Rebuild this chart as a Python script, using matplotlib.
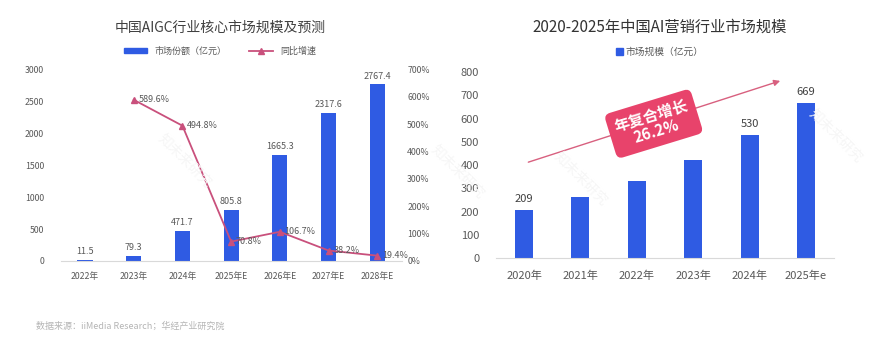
import matplotlib
matplotlib.use("Agg")
import matplotlib.pyplot as plt
import numpy as np
from matplotlib.lines import Line2D
from matplotlib.patches import Patch

plt.rcParams["font.family"] = ["Noto Sans CJK SC", "DejaVu Sans"]

# left chart data
aigc_years = ["2022年", "2023年", "2024年", "2025年E", "2026年E", "2027年E", "2028年E"]
aigc_size = [11.5, 79.3, 471.7, 805.8, 1665.3, 2317.6, 2767.4]
aigc_growth = [None, 589.6, 494.8, 70.8, 106.7, 38.2, 19.4]

# right chart data
mkt_years = ["2020年", "2021年", "2022年", "2023年", "2024年", "2025年e"]
mkt_size = [209, 262, 332, 421, 530, 669]
mkt_labelled = {0: "209", 4: "530", 5: "669"}

BLUE = "#2F5BE3"
PINK = "#C9507C"
TICK = "#595959"
AXIS = "#D9D9D9"

fig = plt.figure(figsize=(8.8, 3.57), dpi=100)

# ---- left: AIGC market ----
ax = fig.add_axes([0.0689, 0.269, 0.3875, 0.536])
x = np.arange(len(aigc_years))
ax.bar(x, aigc_size, width=0.31, color=BLUE, zorder=2)
for xi, v in zip(x, aigc_size):
    ax.text(xi, v + 60, f"{v:.1f}", ha="center", va="bottom", fontsize=6.5, color=TICK)
ax.set_xlim(-0.5, 6.5)
ax.set_ylim(0, 3000)
ax.set_yticks(range(0, 3001, 500))
ax.set_xticks(x, aigc_years)
ax.tick_params(axis="both", length=0, labelsize=6.3, labelcolor=TICK)
ax.tick_params(axis="x", pad=8)
ax.tick_params(axis="y", pad=12)
for s in ["top", "right", "left"]:
    ax.spines[s].set_visible(False)
ax.spines["bottom"].set_color(AXIS)

ax2 = ax.twinx()
gx = [xi for xi, g in zip(x, aigc_growth) if g is not None]
gy = [g for g in aigc_growth if g is not None]
ax2.plot(gx, gy, color=PINK, lw=1.3, marker="^", ms=4, zorder=3)
for xi, g in zip(gx, gy):
    ax2.text(xi + 0.1, g, f"{g:.1f}%", ha="left", va="center", fontsize=6.5, color=TICK)
ax2.set_ylim(0, 700)
ax2.set_yticks(range(0, 701, 100))
ax2.set_yticklabels([f"{t}%" for t in range(0, 701, 100)])
ax2.tick_params(axis="y", length=0, labelsize=6.3, labelcolor=TICK, pad=4)
for s in ["top", "right", "left", "bottom"]:
    ax2.spines[s].set_visible(False)

fig.text(0.25, 0.923, "中国AIGC行业核心市场规模及预测", ha="center", va="center",
         fontsize=10, color="#404040")
handles = [Patch(color=BLUE), Line2D([0], [0], color=PINK, lw=1.3, marker="^", ms=4)]
fig.legend(handles, ["市场份额（亿元）", "同比增速"], loc="center", bbox_to_anchor=(0.25, 0.857),
           ncol=2, frameon=False, fontsize=6.5, handlelength=2.6, handleheight=0.5,
           columnspacing=2.5, labelcolor=TICK)

# ---- right: AI marketing market ----
bx = fig.add_axes([0.5634, 0.277, 0.3845, 0.521])
x2 = np.arange(len(mkt_years))
bx.bar(x2, mkt_size, width=0.32, color=BLUE, zorder=2)
for i, lab in mkt_labelled.items():
    bx.text(x2[i], mkt_size[i] + 25, lab, ha="center", va="bottom", fontsize=8, color="#404040")
bx.set_xlim(-0.5, 5.5)
bx.set_ylim(0, 800)
bx.set_yticks(range(0, 801, 100))
bx.set_xticks(x2, mkt_years)
bx.tick_params(axis="both", length=0, labelsize=8, labelcolor=TICK)
bx.tick_params(axis="x", pad=9)
bx.tick_params(axis="y", pad=12)
for s in ["top", "right", "left"]:
    bx.spines[s].set_visible(False)
bx.spines["bottom"].set_color(AXIS)

bx.annotate("", xy=(4.59, 766), xytext=(0.03, 409),
            arrowprops=dict(arrowstyle="-|>", color="#D8607F", lw=1.0, mutation_scale=9))
bx.text(2.3, 578, "年复合增长\n26.2%", ha="center", va="center", rotation=17,
        fontsize=11, fontweight="bold", color="white", linespacing=1.05, zorder=5,
        bbox=dict(boxstyle="round,pad=0.45,rounding_size=0.4", fc="#E8436B", ec="none"))

fig.text(0.75, 0.923, "2020-2025年中国AI营销行业市场规模", ha="center", va="center",
         fontsize=11, color="#333333")
fig.legend([Patch(color=BLUE)], ["市场规模（亿元）"], loc="center", bbox_to_anchor=(0.75, 0.855),
           frameon=False, fontsize=7, handlelength=0.7, handleheight=0.7,
           handletextpad=0.3, labelcolor=TICK)

# faint watermarks
for wx, wy in [(0.21, 0.55), (0.52, 0.52), (0.66, 0.5), (0.95, 0.62)]:
    fig.text(wx, wy, "知未来研究", rotation=-45, fontsize=10, color="#F6F6F6",
             ha="center", va="center", zorder=0)

fig.text(0.041, 0.087, "数据来源：iiMedia Research；华经产业研究院", fontsize=6.5,
         color="#B5B5B5", ha="left", va="center")

fig.savefig("out.png", dpi=100)
